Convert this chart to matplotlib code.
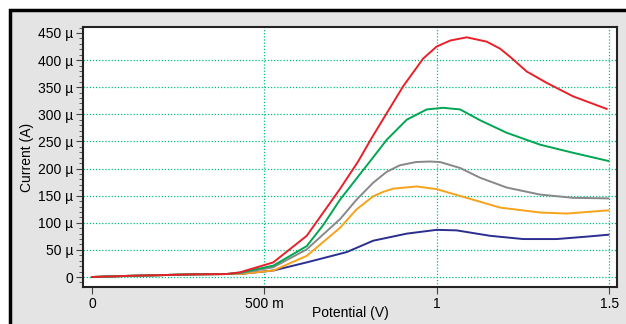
import matplotlib.pyplot as plt
from matplotlib.patches import Rectangle
from matplotlib.ticker import MultipleLocator

plt.rcParams["font.family"] = ["Liberation Sans", "DejaVu Sans"]

# potential (V) and current (uA)
v_low = [0.0, 0.1, 0.2, 0.3, 0.39]
i_low = [0.0, 2.0, 3.5, 5.0, 5.5]

red_v = v_low + [0.429, 0.526, 0.623, 0.671, 0.72, 0.773, 0.811, 0.855, 0.903, 0.961, 1.0, 1.039, 1.087,
                 1.145, 1.184, 1.213, 1.261, 1.319, 1.396, 1.493]
red_i = i_low + [8.6, 27, 76, 119, 163, 214, 256, 302, 352, 403, 425, 436, 442,
                 434, 421, 406, 379, 358, 333, 310]

green_v = v_low + [0.429, 0.526, 0.623, 0.671, 0.72, 0.768, 0.816, 0.855, 0.913, 0.971, 1.019, 1.068,
                   1.126, 1.203, 1.30, 1.396, 1.498]
green_i = i_low + [8, 21, 57, 96, 143, 182, 221, 253, 290, 309, 312, 309,
                   289, 266, 244, 229, 214]

gray_v = v_low + [0.429, 0.526, 0.623, 0.72, 0.768, 0.816, 0.855, 0.893, 0.94, 0.98, 1.01, 1.068, 1.126,
                  1.203, 1.30, 1.396, 1.498]
gray_i = i_low + [7, 18, 51, 107, 143, 174, 194, 206, 212, 213, 212, 201, 183,
                  165, 152, 146, 145]

orange_v = v_low + [0.429, 0.526, 0.623, 0.72, 0.768, 0.816, 0.845, 0.874, 0.942, 1.0, 1.087, 1.184, 1.30,
                    1.377, 1.498]
orange_i = i_low + [5.5, 12, 39, 91, 125, 149, 157, 163, 167, 162, 146, 128, 119,
                    117, 123]

blue_v = v_low + [0.429, 0.526, 0.623, 0.739, 0.816, 0.913, 1.0, 1.058, 1.155, 1.251, 1.348, 1.445, 1.498]
blue_i = i_low + [5.5, 12, 27, 46, 67, 80, 87, 86, 76, 70, 70, 75, 78]

series = [
    (blue_v, blue_i, "#2b2e8f"),
    (orange_v, orange_i, "#f7a21b"),
    (gray_v, gray_i, "#888888"),
    (green_v, green_i, "#00a651"),
    (red_v, red_i, "#e8202a"),
]

x_ticks = [0, 0.5, 1.0, 1.5]
x_labels = ["0", "500 m", "1", "1.5"]
y_ticks = [0, 50, 100, 150, 200, 250, 300, 350, 400, 450]

fig = plt.figure(figsize=(6.26, 3.24), dpi=100, facecolor="white")
panel = Rectangle((10 / 626, -0.1), 1.2, (314 + 32) / 324, transform=fig.transFigure,
                  facecolor="#e4e4e4", edgecolor="black", linewidth=2.5, zorder=-5)
fig.patches.append(panel)
ax = fig.add_axes([83 / 626, 1 - 287 / 324, (617 - 83) / 626, (287 - 27) / 324])
ax.set_zorder(2)
ax.set_facecolor("white")

for v, i, c in series:
    ax.plot(v, i, color=c, lw=1.4, zorder=3, solid_joinstyle="round")

ax.set_xlim(-0.026, 1.523)
ax.set_ylim(-18.4, 461)

ax.set_xticks(x_ticks)
ax.set_xticklabels(x_labels)
ax.set_yticks(y_ticks)
ax.set_yticklabels(["0"] + [f"{t} \u00b5" for t in y_ticks[1:]])
ax.yaxis.set_minor_locator(MultipleLocator(10))
ax.tick_params(axis="both", labelsize=10, color="#444444", direction="out")
ax.tick_params(axis="y", which="major", length=5, pad=2)
ax.tick_params(axis="y", which="minor", length=3, color="#444444")
ax.tick_params(axis="x", length=5, pad=2)

for t in y_ticks[:-1]:
    ax.axhline(t, color="#00c080", lw=0.9, ls=(0, (1, 1.5)), zorder=1)
for t in x_ticks[1:]:
    ax.axvline(t, color="#00c080", lw=0.9, ls=(0, (1, 1.5)), zorder=1)

for s in ax.spines.values():
    s.set_color("#222222")
    s.set_linewidth(1.5)

ax.set_ylabel("Current (A)", fontsize=10, labelpad=3)
fig.text(350 / 626, 1 - 313 / 324, "Potential (V)", fontsize=10, ha="center", va="center")

fig.savefig("out.png", dpi=100, facecolor=fig.get_facecolor())
